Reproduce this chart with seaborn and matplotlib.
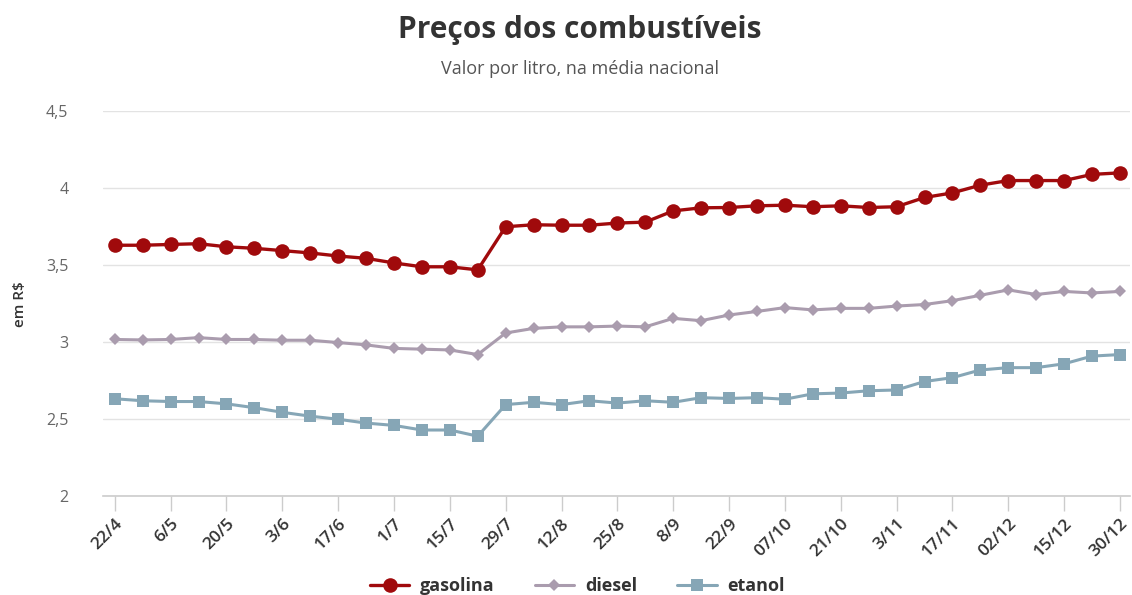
import matplotlib
matplotlib.use("Agg")
import matplotlib.pyplot as plt
import seaborn as sns
import pandas as pd
import numpy as np

datas = ["22/4", "29/4", "6/5", "13/5", "20/5", "27/5", "3/6", "10/6", "17/6", "24/6",
         "1/7", "8/7", "15/7", "22/7", "29/7", "5/8", "12/8", "18/8", "25/8", "1/9",
         "8/9", "15/9", "22/9", "29/9", "07/10", "14/10", "21/10", "28/10", "3/11", "10/11",
         "17/11", "24/11", "02/12", "08/12", "15/12", "22/12", "30/12"]

gasolina = [3.63, 3.63, 3.635, 3.64, 3.62, 3.61, 3.595, 3.58, 3.56, 3.545,
            3.515, 3.49, 3.49, 3.47, 3.75, 3.763, 3.76, 3.76, 3.774, 3.78,
            3.853, 3.873, 3.875, 3.886, 3.89, 3.88, 3.886, 3.875, 3.88, 3.94,
            3.97, 4.02, 4.05, 4.05, 4.05, 4.09, 4.10]

diesel = [3.018, 3.015, 3.018, 3.03, 3.018, 3.018, 3.013, 3.013, 2.998, 2.983,
          2.96, 2.955, 2.95, 2.92, 3.06, 3.09, 3.10, 3.10, 3.105, 3.10,
          3.155, 3.14, 3.177, 3.20, 3.225, 3.21, 3.22, 3.22, 3.235, 3.245,
          3.27, 3.305, 3.34, 3.31, 3.33, 3.32, 3.33]

etanol = [2.633, 2.62, 2.615, 2.615, 2.60, 2.575, 2.545, 2.52, 2.50, 2.475,
          2.46, 2.43, 2.43, 2.39, 2.595, 2.61, 2.595, 2.62, 2.605, 2.62,
          2.61, 2.64, 2.635, 2.64, 2.63, 2.665, 2.67, 2.685, 2.69, 2.745,
          2.77, 2.82, 2.835, 2.835, 2.86, 2.91, 2.92]

series_names = ["gasolina", "diesel", "etanol"]
yticks = [2, 2.5, 3, 3.5, 4, 4.5]
ytick_labels = ["2", "2,5", "3", "3,5", "4", "4,5"]

sns.set_theme(style="white")
plt.rcParams['font.family'] = ['Open Sans', 'DejaVu Sans']

fig = plt.figure(figsize=(11.32, 5.95), dpi=100)
ax = fig.add_axes([0.091, 0.166, 0.907, 0.647])

idx = np.arange(len(datas))
styles = {
    "gasolina": dict(color="#a00a0c", marker="o", markersize=10.5, linewidth=2.4, markeredgewidth=0),
    "diesel": dict(color="#aa9cae", marker="D", markersize=6.5, linewidth=2.2, markeredgewidth=0),
    "etanol": dict(color="#86a6b6", marker="s", markersize=9, linewidth=2.2, markeredgewidth=0),
}
for name, vals in zip(series_names, [gasolina, diesel, etanol]):
    df = pd.DataFrame({"idx": idx, "valor": vals})
    sns.lineplot(data=df, x="idx", y="valor", ax=ax, label=name, **styles[name])

ax.set_xlim(-0.42, 36.35)
ax.set_ylim(2, 4.5)
ax.set_yticks(yticks)
ax.set_yticklabels(ytick_labels)
ax.yaxis.grid(True, color="#e3e3e3", linewidth=1)
ax.set_axisbelow(True)
for s in ["top", "right", "left"]:
    ax.spines[s].set_visible(False)
ax.spines["bottom"].set_color("#cccccc")
ax.spines["bottom"].set_linewidth(1.2)

ax.set_xticks(idx[::2])
ax.set_xticklabels(datas[::2], rotation=45, ha="right", rotation_mode="anchor",
                   fontsize=12.5, color="#333333", fontweight="semibold")
ax.tick_params(axis="x", bottom=True, length=11, width=1, color="#cccccc", pad=3)
ax.tick_params(axis="y", left=False, labelsize=11.5, labelcolor="#666666", pad=19)

ax.set_xlabel("")
ax.set_ylabel("em R$", fontsize=11, color="#333333", fontweight="semibold")
ax.yaxis.set_label_coords(-0.074, 0.5)

fig.text(0.512, 0.950, "Preços dos combustíveis", ha="center", va="center",
         fontsize=21.5, fontweight="bold", color="#333333")
fig.text(0.512, 0.884, "Valor por litro, na média nacional", ha="center", va="center",
         fontsize=13, color="#555555")

ax.legend_.remove()
handles, labels = ax.get_legend_handles_labels()
leg = fig.legend(handles, labels, loc="center", bbox_to_anchor=(0.51, 0.015), ncol=3,
                 frameon=False, fontsize=13, handlelength=2.2, columnspacing=2.2,
                 handletextpad=0.6)
for t in leg.get_texts():
    t.set_fontweight("bold")
    t.set_color("#333333")

fig.savefig("out.png", dpi=100)
